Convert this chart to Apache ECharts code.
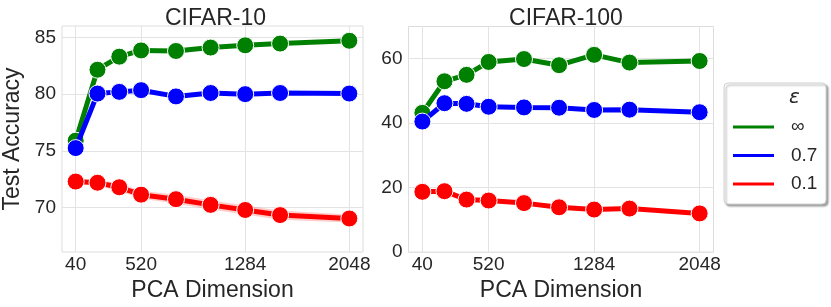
<!DOCTYPE html>
<html>
<head>
<meta charset="utf-8">
<script src="https://cdn.jsdelivr.net/npm/echarts@6/dist/echarts.min.js"></script>
<style>html,body{margin:0;padding:0;background:#fff}#c{width:831px;height:307px}</style>
</head>
<body>
<div id="c"></div>
<script>
const dims = [40, 200, 360, 520, 776, 1030, 1284, 1540, 2048];
const xTicks = [40, 520, 1284, 2048];
const c10YTicks = [70, 75, 80, 85];
const c100YTicks = [0, 20, 40, 60];
const legendNames = ['∞', '0.7', '0.1'];

const c10Inf   = [75.9, 82.15, 83.3, 83.85, 83.8, 84.1, 84.3, 84.45, 84.7];
const c10Eps07 = [75.25, 80.05, 80.2, 80.35, 79.8, 80.1, 80.0, 80.1, 80.05];
const c10Eps01 = [72.3, 72.2, 71.8, 71.15, 70.75, 70.25, 69.8, 69.35, 69.05];
const c10Eps01Lo = [72.1, 71.95, 71.45, 70.8, 70.35, 69.85, 69.4, 68.95, 68.7];
const c10Eps01Hi = [72.5, 72.45, 72.15, 71.5, 71.15, 70.65, 70.2, 69.75, 69.4];

const c100Inf   = [43.2, 53.0, 55.0, 59.0, 59.9, 58.0, 61.2, 58.8, 59.3];
const c100Eps07 = [40.5, 46.2, 46.0, 45.1, 44.9, 44.8, 44.1, 44.2, 43.4];
const c100Eps01 = [18.7, 18.9, 16.3, 16.0, 15.2, 13.9, 13.2, 13.5, 12.0];

const colors = {'∞': '#008000', '0.7': '#0000ff', '0.1': '#ff0000'};
const FONT = '"Liberation Sans", Arial, sans-serif';
const TXT = '#262626';
const pairs = (ys) => dims.map((d, i) => [d, ys[i]]);

const chart = echarts.init(document.getElementById('c'), null, {renderer: 'canvas'});

function xAxis(idx) {
  return {
    type: 'value', gridIndex: idx, min: -60.4, max: 2148.4,
    name: 'PCA Dimension', nameLocation: 'middle', nameGap: 25,
    nameTextStyle: {fontSize: 23, color: TXT, fontFamily: FONT},
    axisLine: {show: false}, axisTick: {show: false, customValues: xTicks},
    axisLabel: {customValues: xTicks, fontSize: 19, color: TXT, fontFamily: FONT, margin: 3,
                formatter: v => String(v)},
    splitLine: {show: true, lineStyle: {color: '#e3e3e3', width: 1}}
  };
}
function yAxis(idx, min, max, ticks, withName) {
  return {
    type: 'value', gridIndex: idx, min: min, max: max,
    name: withName ? 'Test Accuracy' : '', nameLocation: 'middle', nameGap: 38,
    nameTextStyle: {fontSize: 23, color: TXT, fontFamily: FONT},
    axisLine: {show: false}, axisTick: {show: false, customValues: ticks},
    axisLabel: {customValues: ticks, fontSize: 19, color: TXT, fontFamily: FONT, margin: 6,
                formatter: v => String(v)},
    splitLine: {show: true, lineStyle: {color: '#e3e3e3', width: 1}}
  };
}
function lineSeries(name, idx, ys, z) {
  return {
    type: 'line', name: name, xAxisIndex: idx, yAxisIndex: idx,
    data: pairs(ys), symbol: 'circle', symbolSize: 17, showSymbol: true,
    lineStyle: {color: colors[name], width: 5},
    itemStyle: {color: colors[name], borderColor: '#ffffff', borderWidth: 1},
    z: z, animation: false
  };
}

const bandSeries = {
  type: 'custom', name: 'band', xAxisIndex: 0, yAxisIndex: 0, silent: true, z: 2,
  data: pairs(c10Eps01),
  renderItem: function (params, api) {
    if (params.dataIndex !== 0) return null;
    const top = dims.map((d, i) => api.coord([d, c10Eps01Hi[i]]));
    const bot = dims.map((d, i) => api.coord([d, c10Eps01Lo[i]])).reverse();
    return {
      type: 'polygon',
      shape: {points: top.concat(bot)},
      style: {fill: 'rgba(255,0,0,0.2)', stroke: 'none'}
    };
  }
};

const series = [
  bandSeries,
  lineSeries('∞', 0, c10Inf, 3),
  lineSeries('0.7', 0, c10Eps07, 4),
  lineSeries('0.1', 0, c10Eps01, 5),
  lineSeries('∞', 1, c100Inf, 3),
  lineSeries('0.7', 1, c100Eps07, 4),
  lineSeries('0.1', 1, c100Eps01, 5)
];

chart.setOption({
  animation: false,
  backgroundColor: '#ffffff',
  title: [
    {text: 'CIFAR-10', left: 210.5, top: 2, textAlign: 'center',
     textStyle: {fontSize: 23, fontWeight: 'normal', color: TXT, fontFamily: FONT}},
    {text: 'CIFAR-100', left: 561, top: 2, textAlign: 'center',
     textStyle: {fontSize: 23, fontWeight: 'normal', color: TXT, fontFamily: FONT}}
  ],
  grid: [
    {left: 58, top: 26, width: 305, height: 226, show: true, borderColor: '#dddddd', borderWidth: 1, backgroundColor: 'transparent'},
    {left: 408.5, top: 26.5, width: 305, height: 226, show: true, borderColor: '#dddddd', borderWidth: 1, backgroundColor: 'transparent'}
  ],
  xAxis: [xAxis(0), xAxis(1)],
  yAxis: [yAxis(0, 66.1, 86.0, c10YTicks, true), yAxis(1, 0, 70, c100YTicks, false)],
  legend: {
    data: legendNames.map(n => ({name: n, icon: 'rect', itemStyle: {color: colors[n]}})),
    orient: 'vertical', left: 724, top: 83,
    padding: [34, 8, 10, 7],
    itemWidth: 43, itemHeight: 5, itemGap: 8.5,
    textStyle: {fontSize: 19, color: TXT, fontFamily: FONT, lineHeight: 20, padding: [0, 0, 0, 11], width: 27},
    backgroundColor: '#ffffff', borderColor: '#d0d0d0', borderWidth: 1, borderRadius: 4,
    shadowColor: 'rgba(0,0,0,0.35)', shadowBlur: 2, shadowOffsetX: 2, shadowOffsetY: 2,
    selectedMode: false
  },
  graphic: [
    {type: 'text', left: 789, top: 88, z: 100,
     style: {text: 'ε', fontSize: 20, fontStyle: 'italic', fill: TXT, fontFamily: '"DejaVu Sans", ' + FONT}}
  ],
  series: series
});
</script>
</body>
</html>
